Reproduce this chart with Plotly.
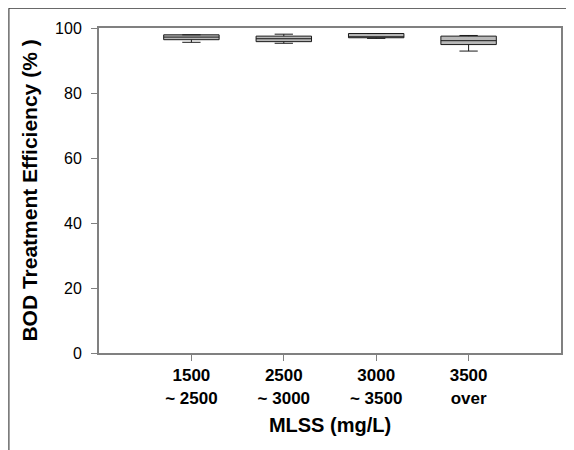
import plotly.graph_objects as go

categories = ["1500<br>~ 2500", "2500<br>~ 3000", "3000<br>~ 3500", "3500<br>over"]
lower_whisker = [95.6, 95.3, 96.8, 92.9]
q1_values = [96.4, 95.8, 97.0, 94.9]
median_values = [97.2, 96.7, 97.1, 96.1]
q3_values = [97.9, 97.5, 98.3, 97.5]
upper_whisker = [97.9, 98.1, 98.3, 97.7]
y_ticks = [0, 20, 40, 60, 80, 100]

fig = go.Figure()
fig.add_trace(go.Box(
    x=categories,
    q1=q1_values,
    median=median_values,
    q3=q3_values,
    lowerfence=lower_whisker,
    upperfence=upper_whisker,
    width=0.6,
    whiskerwidth=0.33,
    fillcolor="#b8b8b8",
    line=dict(color="#1a1a1a", width=1),
    boxpoints=False,
    showlegend=False,
    hoverinfo="skip",
))

font_family = "Liberation Sans, Arial, sans-serif"

fig.update_layout(
    width=574, height=450,
    margin=dict(l=91, r=21, t=17, b=105),
    paper_bgcolor="white",
    plot_bgcolor="white",
    font=dict(family=font_family, color="black"),
    xaxis=dict(
        type="category",
        range=[-1, 4],
        showgrid=False,
        showline=True, linecolor="#808080", linewidth=2, mirror=True,
        ticks="outside", ticklen=6, tickcolor="#808080", tickwidth=1,
        tickfont=dict(size=17, family=font_family, color="black", weight="bold"),
        title=dict(text="<b>MLSS (mg/L)</b>", font=dict(size=20), standoff=11),
        zeroline=False,
    ),
    yaxis=dict(
        range=[0, 100],
        tickvals=y_ticks,
        showgrid=False,
        showline=True, linecolor="#808080", linewidth=2, mirror=True,
        ticks="outside", ticklen=6, tickcolor="#808080", tickwidth=1,
        ticklabelstandoff=6,
        tickfont=dict(size=16, family=font_family, color="black"),
        title=dict(text="<b>BOD Treatment Efficiency (% )</b>", font=dict(size=21), standoff=12),
        zeroline=False,
    ),
    shapes=[
        dict(type="line", xref="paper", yref="paper",
             x0=-0.195, x1=1.05, y0=1.061, y1=1.061,
             line=dict(color="#222222", width=1)),
        dict(type="line", xref="paper", yref="paper",
             x0=-0.195, x1=-0.195, y0=1.061, y1=-0.35,
             line=dict(color="#222222", width=1)),
    ],
)

fig.write_html("out.html")
